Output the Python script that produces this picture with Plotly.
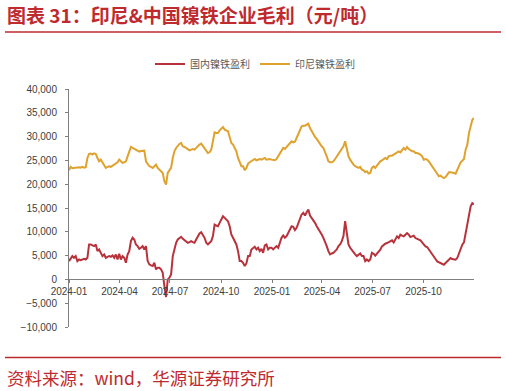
import pandas as pd
import plotly.graph_objects as go

# ---------------- data ----------------
start_date = "2024-01-01"
end_date = "2025-12-31"

indonesia_profit = [
    22930, 23630, 23350, 23420, 23350, 23490, 23560, 23490, 23630, 23490,
    23560, 25510, 26350, 26420, 26210, 26490, 26350, 25510, 24820, 25160,
    24470, 24120, 23420, 23630, 23770, 23630, 23910, 24050, 24330, 24610,
    25160, 24820, 24470, 24610, 24820, 25860, 26910, 27820, 27610, 27400,
    27120, 26910, 26840, 26980, 26980, 27050, 24820, 24120, 23770, 23630,
    23420, 23770, 24120, 23420, 23070, 22720, 22370, 20620, 19920, 22370,
    22860, 23420, 25510, 26910, 27610, 28100, 28450, 28660, 27960, 27820,
    27610, 27400, 27120, 27260, 27400, 27260, 27610, 28100, 28310, 28520,
    27960, 27400, 26910, 26560, 26700, 27260, 29010, 30900, 30760, 30760,
    31320, 31670, 32010, 31460, 31320, 31110, 29920, 28660, 28310, 27610,
    26910, 25510, 24470, 23770, 23770, 22930, 23420, 24330, 24610, 24820,
    25160, 25300, 25020, 25160, 25300, 25160, 25300, 25510, 25160, 25300, 25300,
    25160, 25160, 25020, 25300, 25860, 26560, 26910, 27610, 27400, 27820,
    28100, 28660, 29010, 28800, 28940, 29710, 30410, 31110, 32150, 32290,
    32290, 32500, 32710, 31810, 31110, 30410, 29920, 29500, 29010, 28310,
    27960, 27610, 26910, 25860, 24820, 24610, 24610, 24820, 25300, 25860,
    26210, 26700, 27260, 27960, 29010, 27610, 25860, 25160, 24470, 24120,
    23770, 23630, 23420, 23630, 23070, 22930, 22510, 22720, 22230, 22370, 23420,
    23750, 23400, 23890, 24450, 24800, 25010, 25290, 25500, 25290, 25850,
    25990, 25990, 26200, 26410, 26690, 26900, 26690, 27110, 27600, 27250,
    27810, 27390, 27110, 26900, 26900, 26550, 26550, 26410, 26200, 25850,
    25150, 25290, 25150, 24800, 24310, 23890, 23190, 22910, 22210, 21650,
    21790, 21510, 21300, 21510, 22000, 22490, 22490, 22490, 22350, 22210,
    23050, 24100, 24590, 24940, 25290, 27250, 28300, 30750, 32500, 33550, 33900,
]

domestic_profit = [
    3850, 4540, 4890, 4540, 4890, 3850, 4190, 4050, 4190, 4330,
    4190, 4540, 7340, 7340, 7130, 6990, 7340, 5940, 6290, 5590,
    4890, 5240, 4540, 4750, 4890, 4750, 5030, 4540, 5240, 4190,
    5380, 4190, 4890, 4540, 3500, 5240, 5940, 8040, 8740, 8390,
    7340, 6990, 6430, 6640, 6990, 6290, 6990, 3850, 3150, 2940,
    2800, 3500, 2100, 2450, 2450, 2100, 1400, -1400, -3700, 0,
    350, 1050, 4890, 6290, 7690, 8390, 8740, 8950, 8530, 8250,
    8040, 7690, 7830, 8040, 7830, 7690, 8390, 9090, 9650, 9930,
    9440, 8740, 7690, 7340, 7690, 8040, 9090, 11530, 11320, 11180,
    11880, 12580, 13280, 12930, 12580, 12230, 11180, 9440, 8740, 8040,
    7340, 5940, 3850, 3850, 3500, 2800, 3360, 4890, 4890, 6290,
    6640, 6850, 6290, 6640, 5940, 6430, 5590, 7130, 7340, 6290, 6640,
    6640, 6290, 6640, 6990, 6640, 7690, 8740, 9230, 8740, 9090,
    9790, 10490, 11180, 11040, 10350, 10840, 11880, 12580, 13630, 13980,
    13420, 14120, 14680, 13420, 12930, 12580, 11880, 11180, 10630, 10140,
    9440, 8740, 8040, 6990, 5940, 5240, 5450, 5590, 5940, 6290,
    6990, 7340, 8040, 9090, 12230, 9440, 7340, 6640, 6150, 5590,
    5240, 4890, 5240, 5450, 4890, 4890, 3850, 4190, 3850, 4190, 5590,
    5400, 4980, 5400, 5890, 6240, 6940, 7290, 7500, 7640, 7780,
    7990, 8200, 7780, 8480, 9040, 8690, 9390, 9180, 9040, 9390,
    9740, 9390, 8900, 9040, 9180, 8690, 8480, 8340, 8200, 7780,
    7290, 6940, 6800, 6240, 5890, 5400, 4840, 4280, 3790, 3580,
    3440, 3300, 3090, 3440, 3790, 4280, 4490, 4280, 4280, 4140,
    4490, 5400, 6590, 7290, 7780, 9740, 11140, 13590, 15340, 16040, 15830,
]

dates = pd.date_range(start_date, end_date, periods=len(domestic_profit))

series_names = ["国内镍铁盈利", "印尼镍铁盈利"]
x_tick_vals = ["2024-01-01", "2024-04-01", "2024-07-01", "2024-10-01",
               "2025-01-01", "2025-04-01", "2025-07-01", "2025-10-01"]
y_range = [-10000, 40000]

title_text = "图表 31：印尼&中国镍铁企业毛利（元/吨）"
source_text = "资料来源：wind，华源证券研究所"

# ---------------- layout geometry ----------------
W, H = 506, 391
L, R, T, B = 69, 32, 89, 64
PW, PH = W - L - R, H - T - B


def px_x(px):
    return (px - L) / PW


def px_y(py):
    return (H - B - py) / PH


RED = "#B8323C"
ORANGE = "#E0A22E"
BRAND = "#BE2A2E"
AXIS = "#7F7F7F"
TICKFONT = dict(family="Liberation Sans, Arial, sans-serif", size=10, color="#404040")
CJK = "Noto Sans CJK SC"

fig = go.Figure()
fig.add_trace(go.Scatter(x=dates, y=domestic_profit, name=series_names[0], mode="lines",
                         line=dict(color=RED, width=2)))
fig.add_trace(go.Scatter(x=dates, y=indonesia_profit, name=series_names[1], mode="lines",
                         line=dict(color=ORANGE, width=2)))

zero_pos = (0 - y_range[0]) / (y_range[1] - y_range[0])

fig.update_layout(
    width=W, height=H,
    margin=dict(l=L, r=R, t=T, b=B),
    paper_bgcolor="white", plot_bgcolor="white",
    showlegend=True,
    legend=dict(orientation="h", x=px_x(150), y=px_y(64), xanchor="left", yanchor="middle",
                font=dict(family=CJK, size=10, color="#595959"), bgcolor="rgba(0,0,0,0)",
                itemwidth=30, tracegroupgap=0),
    xaxis=dict(type="date", range=[start_date, end_date], tickvals=x_tick_vals,
               tickformat="%Y-%m", showgrid=False, zeroline=False,
               showline=True, linecolor=AXIS, linewidth=1,
               ticks="outside", ticklen=3, tickcolor=AXIS,
               anchor="free", position=zero_pos, tickfont=TICKFONT),
    yaxis=dict(range=y_range, dtick=5000, tickformat=",", showgrid=False, zeroline=False,
               showline=True, linecolor=AXIS, linewidth=1,
               ticks="outside", ticklen=3, tickcolor=AXIS, tickfont=TICKFONT,
               ticklabelstandoff=6),
)

# title, rules and source
fig.add_annotation(text="<b>" + title_text + "</b>", xref="paper", yref="paper",
                   x=px_x(5), y=px_y(14), xanchor="left", yanchor="middle", showarrow=False,
                   font=dict(family=CJK, size=19, color=BRAND))
fig.add_shape(type="line", xref="paper", yref="paper", x0=px_x(5), x1=px_x(501),
              y0=px_y(32), y1=px_y(32), line=dict(color=BRAND, width=1.5))
fig.add_shape(type="line", xref="paper", yref="paper", x0=px_x(5), x1=px_x(501),
              y0=px_y(357.5), y1=px_y(357.5), line=dict(color=BRAND, width=1.5))
fig.add_annotation(text=source_text, xref="paper", yref="paper",
                   x=px_x(5), y=px_y(377), xanchor="left", yanchor="middle", showarrow=False,
                   font=dict(family=CJK, size=17.5, color=BRAND))

fig.write_html("out.html")
